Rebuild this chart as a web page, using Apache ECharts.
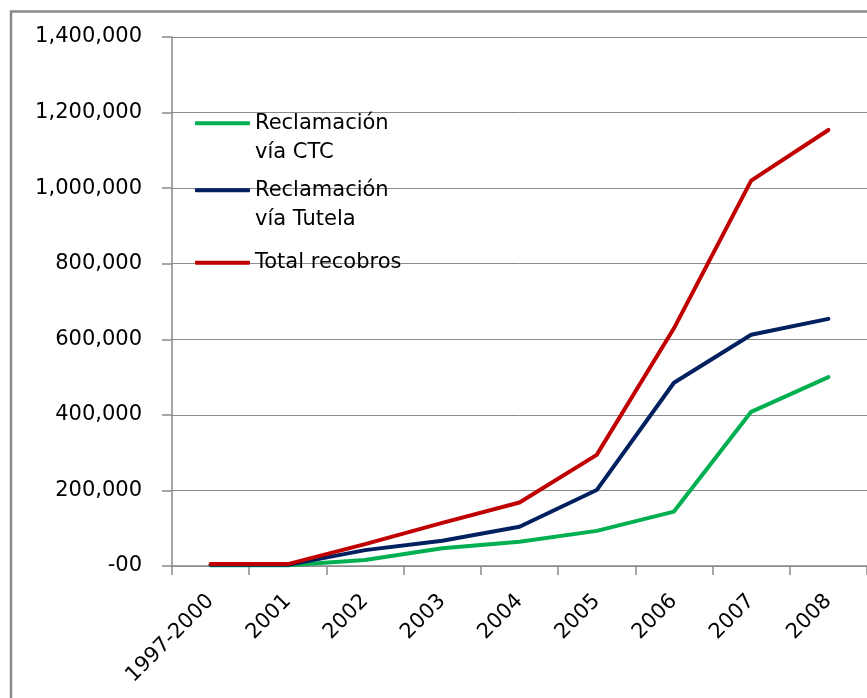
<!DOCTYPE html>
<html>
<head>
<meta charset="utf-8">
<script src="https://cdn.jsdelivr.net/npm/echarts@6/dist/echarts.min.js"></script>
<style>
html,body{margin:0;padding:0;background:#fff;}
#chart{width:867px;height:698px;}
</style>
</head>
<body>
<div id="chart"></div>
<script>
const categories = ['1997-2000','2001','2002','2003','2004','2005','2006','2007','2008'];
const ctcValues = [2000, 2000, 16000, 47000, 64000, 93000, 144000, 408000, 500000];
const tutelaValues = [3000, 3000, 42000, 67000, 104000, 201000, 485000, 612000, 654000];
const totalValues = [5000, 5000, 58000, 114000, 168000, 294000, 629000, 1020000, 1154000];
const seriesNames = ['Reclamación\nvía CTC', 'Reclamación\nvía Tutela', 'Total recobros'];
const seriesColors = ['#00b050', '#002060', '#c00000'];
const yTickMax = 1400000;
const yTickStep = 200000;

const FONT = 'DejaVu Sans';
const chart = echarts.init(document.getElementById('chart'));

function legendFor(i, top) {
  return {
    left: 195,
    top: top,
    padding: 0,
    orient: 'vertical',
    icon: 'roundRect',
    itemWidth: 55,
    itemHeight: 4,
    data: [seriesNames[i]],
    // put an empty line above two-line names so the first line sits level with the icon
    formatter: name => name.indexOf('\n') >= 0 ? ' \n' + name : name,
    textStyle: { fontFamily: FONT, fontSize: 21, color: '#000', lineHeight: 29.5 }
  };
}

const mkSeries = (i, data) => ({
  name: seriesNames[i],
  type: 'line',
  data: data,
  symbol: 'none',
  smooth: false,
  color: seriesColors[i],
  lineStyle: { width: 4, color: seriesColors[i], cap: 'round', join: 'round' },
  emphasis: { disabled: true }
});

chart.setOption({
  animation: false,
  backgroundColor: '#fff',
  graphic: [{
    type: 'rect',
    shape: { x: 11, y: 11.5, width: 900, height: 700 },
    style: { fill: 'none', stroke: '#8a8a8a', lineWidth: 2.5 },
    silent: true, z: 100
  }],
  legend: [
    legendFor(0, 79),
    legendFor(1, 146),
    legendFor(2, 248)
  ],
  grid: { left: 172, top: 37, right: -2.5, bottom: 132, containLabel: false },
  xAxis: {
    type: 'category',
    data: categories,
    boundaryGap: true,
    axisLine: { show: true, lineStyle: { color: '#8a8a8a', width: 1.5 } },
    axisTick: { show: true, length: 9, alignWithLabel: false, lineStyle: { color: '#8a8a8a', width: 1.5 } },
    axisLabel: {
      rotate: 45, margin: 32, interval: 0, verticalAlign: 'middle',
      fontFamily: FONT, fontSize: 21, color: '#000'
    },
    splitLine: { show: false }
  },
  yAxis: {
    type: 'value',
    min: 0, max: yTickMax, interval: yTickStep,
    axisLine: { show: true, lineStyle: { color: '#8a8a8a', width: 1.5 } },
    axisTick: { show: true, length: 10, lineStyle: { color: '#8a8a8a', width: 1.5 } },
    axisLabel: {
      margin: 30, fontFamily: FONT, fontSize: 21, color: '#000',
      formatter: v => v === 0 ? '-00' : v.toLocaleString('en-US')
    },
    splitLine: { show: true, lineStyle: { color: '#8c8c8c', width: 1 } }
  },
  series: [
    mkSeries(0, ctcValues),
    mkSeries(1, tutelaValues),
    mkSeries(2, totalValues)
  ]
});
</script>
</body>
</html>
